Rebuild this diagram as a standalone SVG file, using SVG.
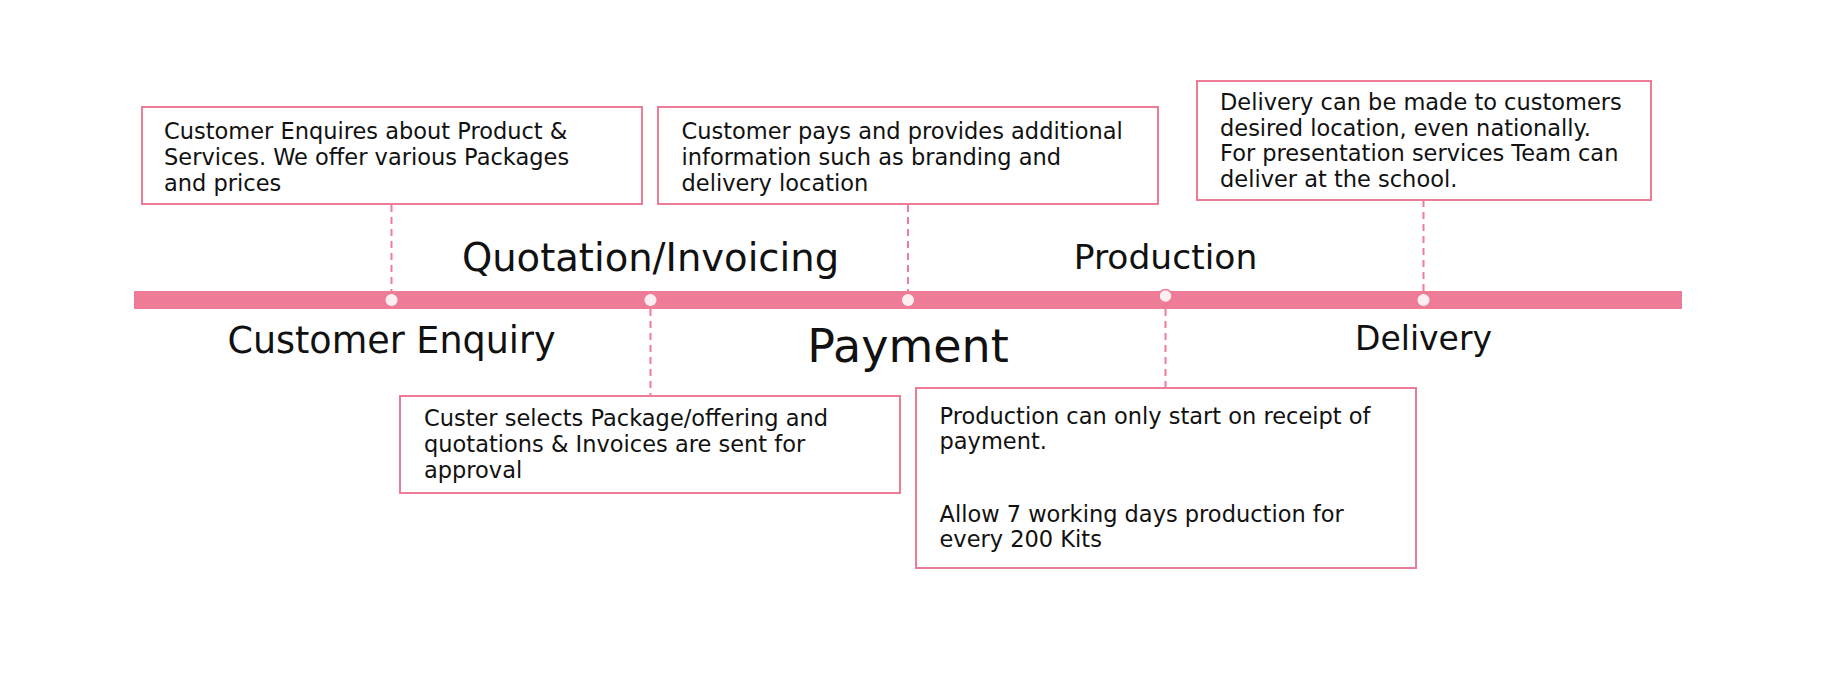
<svg xmlns="http://www.w3.org/2000/svg" width="1837" height="683" viewBox="0 0 1837 683">
<style>
.box{fill:#fff;stroke:#EF7C97;stroke-width:2}
.body{font-family:"DejaVu Sans",sans-serif;font-size:22.5px;fill:#111}
.lbl{font-family:"DejaVu Sans",sans-serif;fill:#111;text-anchor:middle}
.dash{stroke:#EF7C97;stroke-width:2;stroke-dasharray:7 5;fill:none}
.dot{fill:#FDEEF2}
</style>
<rect width="1837" height="683" fill="#fff"/>
<g id="connectors">
<line class="dash" x1="391.5" y1="205" x2="391.5" y2="291"/>
<line class="dash" x1="650.5" y1="309" x2="650.5" y2="396"/>
<line class="dash" x1="908" y1="205" x2="908" y2="291"/>
<line class="dash" x1="1165.5" y1="309" x2="1165.5" y2="388"/>
<line class="dash" x1="1423.5" y1="200" x2="1423.5" y2="291"/>
</g>
<g id="timeline">
<rect x="134" y="291" width="1548" height="18" fill="#EF7C97"/>
<circle class="dot" cx="391.5" cy="300" r="6"/>
<circle class="dot" cx="650.5" cy="300" r="6"/>
<circle class="dot" cx="908" cy="300" r="6"/>
<circle class="dot" cx="1165.5" cy="296" r="6.5" stroke="#EF7C97" stroke-width="1.5"/>
<circle class="dot" cx="1423.5" cy="300" r="6"/>
</g>
<g id="label-enquiry"><text class="lbl" x="391.5" y="353" font-size="36.5">Customer Enquiry</text></g>
<g id="label-quotation"><text class="lbl" x="650.5" y="271" font-size="38.5">Quotation/Invoicing</text></g>
<g id="label-payment"><text class="lbl" x="908" y="362" font-size="46">Payment</text></g>
<g id="label-production"><text class="lbl" x="1165.5" y="269" font-size="34.5">Production</text></g>
<g id="label-delivery"><text class="lbl" x="1423.5" y="350" font-size="33">Delivery</text></g>
<g id="box-enquiry">
<rect class="box" x="142" y="107" width="500" height="97"/>
<text class="body"><tspan x="164" y="138.5">Customer Enquires about Product &amp;</tspan><tspan x="164" y="164.5">Services. We offer various Packages</tspan><tspan x="164" y="190.5">and prices</tspan></text>
</g>
<g id="box-payment">
<rect class="box" x="658" y="107" width="500" height="97"/>
<text class="body"><tspan x="681.5" y="138.5">Customer pays and provides additional</tspan><tspan x="681.5" y="164.5">information such as branding and</tspan><tspan x="681.5" y="190.5">delivery location</tspan></text>
</g>
<g id="box-delivery">
<rect class="box" x="1197" y="81" width="454" height="119"/>
<text class="body"><tspan x="1220" y="110">Delivery can be made to customers</tspan><tspan x="1220" y="135.7">desired location, even nationally.</tspan><tspan x="1220" y="161.4">For presentation services Team can</tspan><tspan x="1220" y="187">deliver at the school.</tspan></text>
</g>
<g id="box-quotation">
<rect class="box" x="400" y="396" width="500" height="97"/>
<text class="body"><tspan x="424" y="426">Custer selects Package/offering and</tspan><tspan x="424" y="452.3">quotations &amp; Invoices are sent for</tspan><tspan x="424" y="478.3">approval</tspan></text>
</g>
<g id="box-production">
<rect class="box" x="916" y="388" width="500" height="180"/>
<text class="body"><tspan x="939.5" y="424">Production can only start on receipt of</tspan><tspan x="939.5" y="449.3">payment.</tspan><tspan x="939.5" y="521.7">Allow 7 working days production for</tspan><tspan x="939.5" y="547.3">every 200 Kits</tspan></text>
</g>
</svg>
